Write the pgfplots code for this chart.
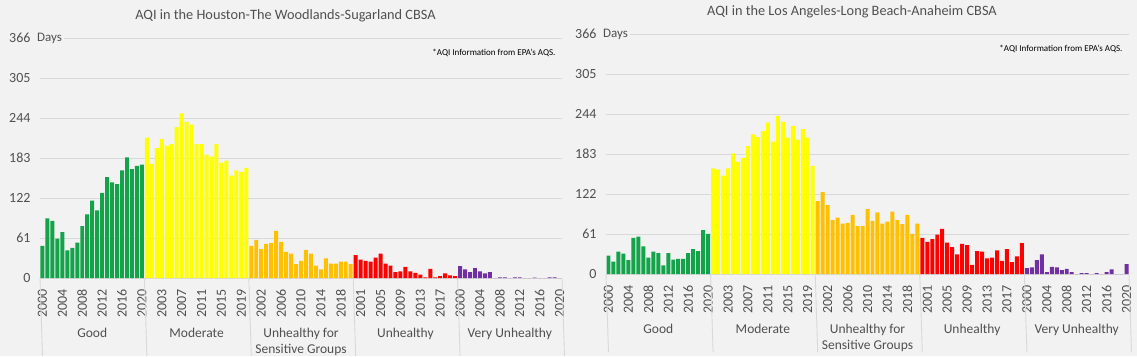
\documentclass[border=0pt]{standalone}
\usepackage{fontspec}
\setmainfont{Carlito}
\usepackage{pgfplots}
\usepackage{pgfplotstable}
\pgfplotsset{compat=1.18}
\definecolor{bgcol}{RGB}{242,242,242}
\definecolor{gridcol}{RGB}{217,217,217}
\definecolor{cgood}{RGB}{20,163,75}
\definecolor{cmod}{RGB}{255,255,0}
\definecolor{cusg}{RGB}{255,192,0}
\definecolor{cunh}{RGB}{255,0,0}
\definecolor{cvu}{RGB}{112,48,160}
\definecolor{txt}{RGB}{80,80,80}

% columns: x index, Houston, Los Angeles
\pgfplotstableread{
x hou la
0 49 28
1 91 19
2 87 34
3 60 31
4 70 21
5 42 55
6 46 57
7 54 42
8 79 25
9 97 34
10 118 32
11 103 13
12 130 32
13 154 22
14 146 23
15 143 23
16 164 32
17 184 38
18 166 35
19 171 67
20 173 61
}\good
\pgfplotstableread{
x hou la
21 214 161
22 174 159
23 198 150
24 212 161
25 202 184
26 204 171
27 230 177
28 251 195
29 238 213
30 234 209
31 204 218
32 204 231
33 188 202
34 185 241
35 204 232
36 176 208
37 179 226
38 156 205
39 164 221
40 162 208
41 168 165
}\moderate
\pgfplotstableread{
x hou la
42 49 111
43 58 125
44 44 105
45 52 82
46 53 86
47 72 77
48 55 78
49 40 90
50 37 73
51 21 73
52 26 99
53 43 81
54 37 94
55 19 77
56 13 80
57 30 95
58 22 82
59 22 76
60 25 90
61 25 61
62 21 77
}\usg
\pgfplotstableread{
x hou la
63 35 55
64 28 49
65 26 53
66 25 60
67 31 69
68 37 48
69 22 41
70 19 30
71 9 46
72 10 44
73 17 14
74 10 35
75 8 34
76 5 24
77 1 25
78 14 36
79 1 20
80 3 38
81 7 18
82 4 27
83 3 47
}\unhealthy
\pgfplotstableread{
x hou la
84 18 9
85 13 10
86 9 21
87 15 30
88 10 3
89 7 11
90 9 10
91 0 6
92 1 8
93 1 3
94 0 0
95 1 1.5
96 1 1.5
97 0 0
98 0 1.5
99 0.5 0
100 0 3
101 0 7
102 1 0
103 1 0
104 0 15
}\veryunh

\pgfplotsset{
  aqi/.style={
    scale only axis,
    anchor=south west,
    xmin=-0.5, xmax=104.5,
    ymin=0, ymax=366,
    ytick={0,61,122,183,244,305,366},
    xtick={0,4,...,104},
    xticklabels={2000,2004,2008,2012,2016,2020,2003,2007,2011,2015,2019,2002,2006,2010,2014,2018,2001,2005,2009,2013,2017,2000,2004,2008,2012,2016,2020},
    ymajorgrids,
    grid style={gridcol, line width=0.9pt},
    axis line style={draw=none},
    major tick length=0pt,
    tick label style={font=\fontsize{14}{16}\selectfont, text=txt},
    /pgf/number format/assume math mode=true,
    xticklabel style={rotate=90, anchor=east},
    xticklabel shift=8pt,
    yticklabel shift=6pt,
    clip=false,
    bar width=0.8,
  },
}
\tikzset{catlab/.style={font=\fontsize{13.5}{16}\selectfont, text=txt, align=center, anchor=north}}

\begin{document}
\begin{tikzpicture}
\fill[bgcol] (0,0) rectangle (1137pt,356pt);
\path[use as bounding box] (0,0) rectangle (1137pt,356pt);

\node[font=\fontsize{14.3}{16}\selectfont, text=txt] at (285.5pt,340pt) {AQI in the Houston-The Woodlands-Sugarland CBSA};
\node[font=\fontsize{14.3}{16}\selectfont, text=txt] at (852pt,344pt) {AQI in the Los Angeles-Long Beach-Anaheim CBSA};

% Houston
\begin{axis}[aqi, at={(40pt,78pt)}, width=522pt, height=240pt]
\addplot[ybar, fill=cgood, draw=none] table[x=x, y=hou] {\good};
\addplot[ybar, fill=cmod, draw=none] table[x=x, y=hou] {\moderate};
\addplot[ybar, fill=cusg, draw=none] table[x=x, y=hou] {\usg};
\addplot[ybar, fill=cunh, draw=none] table[x=x, y=hou] {\unhealthy};
\addplot[ybar, fill=cvu, draw=none] table[x=x, y=hou] {\veryunh};
\pgfplotsinvokeforeach{-0.5,20.5,41.5,62.5,83.5,104.5}{
  \draw[gridcol, line width=0.9pt] (axis cs:#1,0) -- ++(0,-78pt);
}
\node[catlab] at (axis cs:10,0) [yshift=-47pt] {Good};
\node[catlab] at (axis cs:31,0) [yshift=-47pt] {Moderate};
\node[catlab] at (axis cs:52,0) [yshift=-47pt] {Unhealthy for\\Sensitive Groups};
\node[catlab] at (axis cs:73,0) [yshift=-47pt] {Unhealthy};
\node[catlab] at (axis cs:94,0) [yshift=-47pt] {Very Unhealthy};
\node[fill=bgcol, anchor=west, font=\fontsize{13}{15}\selectfont, text=txt, inner xsep=2pt] at (axis cs:-0.5,366) [xshift=-5pt] {Days};
\node[anchor=north east, font=\fontsize{9}{11}\selectfont, text=black] at (rel axis cs:1,1) [xshift=-3pt, yshift=-8pt] {*AQI Information from EPA's AQS.};
\end{axis}

% Los Angeles
\begin{axis}[aqi, at={(606pt,82pt)}, width=523pt, height=240pt]
\addplot[ybar, fill=cgood, draw=none] table[x=x, y=la] {\good};
\addplot[ybar, fill=cmod, draw=none] table[x=x, y=la] {\moderate};
\addplot[ybar, fill=cusg, draw=none] table[x=x, y=la] {\usg};
\addplot[ybar, fill=cunh, draw=none] table[x=x, y=la] {\unhealthy};
\addplot[ybar, fill=cvu, draw=none] table[x=x, y=la] {\veryunh};
\pgfplotsinvokeforeach{-0.5,20.5,41.5,62.5,83.5,104.5}{
  \draw[gridcol, line width=0.9pt] (axis cs:#1,0) -- ++(0,-78pt);
}
\node[catlab] at (axis cs:10,0) [yshift=-47pt] {Good};
\node[catlab] at (axis cs:31,0) [yshift=-47pt] {Moderate};
\node[catlab] at (axis cs:52,0) [yshift=-47pt] {Unhealthy for\\Sensitive Groups};
\node[catlab] at (axis cs:73,0) [yshift=-47pt] {Unhealthy};
\node[catlab] at (axis cs:94,0) [yshift=-47pt] {Very Unhealthy};
\node[fill=bgcol, anchor=west, font=\fontsize{13}{15}\selectfont, text=txt, inner xsep=2pt] at (axis cs:-0.5,366) [xshift=-5pt] {Days};
\node[anchor=north east, font=\fontsize{9}{11}\selectfont, text=black] at (rel axis cs:1,1) [xshift=-3pt, yshift=-8pt] {*AQI Information from EPA's AQS.};
\end{axis}
\end{tikzpicture}
\end{document}
